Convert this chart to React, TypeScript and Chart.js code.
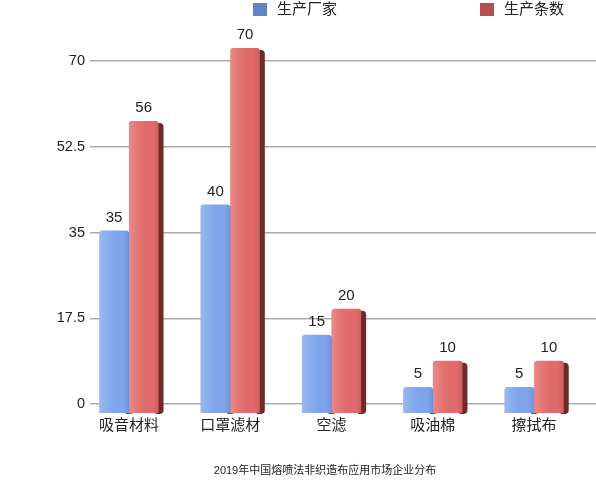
import React, { useEffect, useRef } from "react";
import { Chart, registerables } from "chart.js";

Chart.register(...registerables);

const CATEGORIES = ["吸音材料", "口罩滤材", "空滤", "吸油棉", "擦拭布"];
const SERIES_NAMES = ["生产厂家", "生产条数"];
const MAKERS = [35, 40, 15, 5, 5];
const LINES = [56, 70, 20, 10, 10];
const Y_TICKS = [0, 17.5, 35, 52.5, 70];
const TITLE = "2019年中国熔喷法非织造布应用市场企业分布";

const FONT = "'Liberation Sans', 'Noto Sans CJK SC', sans-serif";
const FRONT = ["#7ea5ee", "#e16b6a"];
const SIDE = ["#3f5f9e", "#6e2929"];
const LEGEND_COLORS = ["#5f86c2", "#b5504f"];
const TEXT = "#222222";

const bar3d = {
  id: "bar3d",
  beforeDatasetsDraw(chart: any) {
    const ctx = chart.ctx;
    ctx.save();
    chart.data.datasets.forEach((_: any, d: number) => {
      const meta = chart.getDatasetMeta(d);
      meta.data.forEach((el: any) => {
        const { x, y, base, width } = el.getProps(["x", "y", "base", "width"], true);
        const right = x + width / 2;
        ctx.fillStyle = SIDE[d];
        ctx.beginPath();
        ctx.roundRect(right - 3, y + 2, 8, base - y - 1, [0, 4, 4, 0]);
        ctx.fill();
      });
    });
    ctx.restore();
  },
  afterDatasetsDraw(chart: any) {
    const ctx = chart.ctx;
    ctx.save();
    chart.data.datasets.forEach((ds: any, d: number) => {
      const meta = chart.getDatasetMeta(d);
      meta.data.forEach((el: any, i: number) => {
        const { x, y, base, width } = el.getProps(["x", "y", "base", "width"], true);
        const left = x - width / 2;
        const g = ctx.createLinearGradient(left, 0, left + width, 0);
        g.addColorStop(0, "rgba(255,255,255,0.22)");
        g.addColorStop(0.35, "rgba(255,255,255,0.05)");
        g.addColorStop(0.8, "rgba(0,0,0,0.0)");
        g.addColorStop(1, "rgba(0,0,0,0.10)");
        ctx.fillStyle = g;
        ctx.beginPath();
        ctx.roundRect(left, y, width, base - y, [3, 3, 0, 0]);
        ctx.fill();
        const v = ds.data[i].y;
        ctx.fillStyle = TEXT;
        ctx.font = `15px ${FONT}`;
        ctx.textAlign = "center";
        ctx.textBaseline = "middle";
        ctx.fillText(String(v), x, y - 13);
      });
    });
    ctx.restore();
  },
  afterDraw(chart: any) {
    const ctx = chart.ctx;
    const xs = [253, 480];
    ctx.save();
    chart.data.datasets.forEach((ds: any, d: number) => {
      ctx.fillStyle = LEGEND_COLORS[d];
      ctx.fillRect(xs[d], 3, 14, 13);
      ctx.fillStyle = TEXT;
      ctx.font = `15px ${FONT}`;
      ctx.textAlign = "left";
      ctx.textBaseline = "middle";
      ctx.fillText(ds.label, xs[d] + 24, 10);
    });
    ctx.restore();
  },
};

export default function App() {
  const ref = useRef<HTMLCanvasElement | null>(null);

  useEffect(() => {
    if (!ref.current) return;
    const makeData = (vals: number[]) => CATEGORIES.map((_, i) => ({ x: i, y: vals[i] }));
    const chart = new Chart(ref.current, {
      type: "bar",
      data: {
        datasets: [
          {
            label: SERIES_NAMES[0],
            data: makeData(MAKERS),
            yAxisID: "yb",
            backgroundColor: FRONT[0],
            barPercentage: 1,
            categoryPercentage: 0.585,
            borderRadius: { topLeft: 3, topRight: 3, bottomLeft: 0, bottomRight: 0 },
            borderSkipped: "bottom",
          },
          {
            label: SERIES_NAMES[1],
            data: makeData(LINES),
            yAxisID: "yb",
            backgroundColor: FRONT[1],
            barPercentage: 1,
            categoryPercentage: 0.585,
            borderRadius: { topLeft: 3, topRight: 3, bottomLeft: 0, bottomRight: 0 },
            borderSkipped: "bottom",
          },
        ],
      },
      options: {
        animation: false,
        responsive: true,
        maintainAspectRatio: false,
        layout: { padding: { left: 54, right: 0, top: 30, bottom: 0 } },
        plugins: {
          legend: { display: false },
          tooltip: { enabled: false },
          title: {
            display: true,
            text: TITLE,
            position: "bottom",
            color: TEXT,
            font: { family: FONT, size: 11, weight: "normal" },
            padding: { top: 0, bottom: 9.4 },
          },
        },
        scales: {
          x: {
            type: "linear",
            offset: false,
            min: -0.384,
            max: 4.611,
            afterBuildTicks: (axis: any) => {
              axis.ticks = CATEGORIES.map((_, i) => ({ value: i }));
            },
            afterFit: (s: any) => {
              s.height = 51.4;
            },
            grid: { display: false, drawTicks: false },
            border: { display: false },
            ticks: {
              autoSkip: false,
              maxRotation: 0,
              padding: 4,
              color: TEXT,
              font: { family: FONT, size: 15 },
              callback: (v: any) => CATEGORIES[v] ?? "",
            },
          },
          y: {
            position: "left",
            min: -1.837,
            max: 76.33,
            afterBuildTicks: (axis: any) => {
              axis.ticks = Y_TICKS.map((v) => ({ value: v }));
            },
            afterFit: (s: any) => {
              s.width = 36;
            },
            grid: { color: "#ababab", lineWidth: 1.5, drawTicks: false },
            border: { display: false },
            ticks: {
              padding: 5,
              color: TEXT,
              font: { family: FONT, size: 14.5 },
              callback: (v: any) => String(v),
            },
          },
          yb: {
            display: false,
            position: "left",
            min: 0,
            max: 73.46,
          },
        },
      },
      plugins: [bar3d],
    });
    return () => chart.destroy();
  }, []);

  return (
    <div style={{ position: "fixed", left: 0, top: 0, width: 596, height: 487, background: "#fff" }}>
      <canvas ref={ref} />
    </div>
  );
}
